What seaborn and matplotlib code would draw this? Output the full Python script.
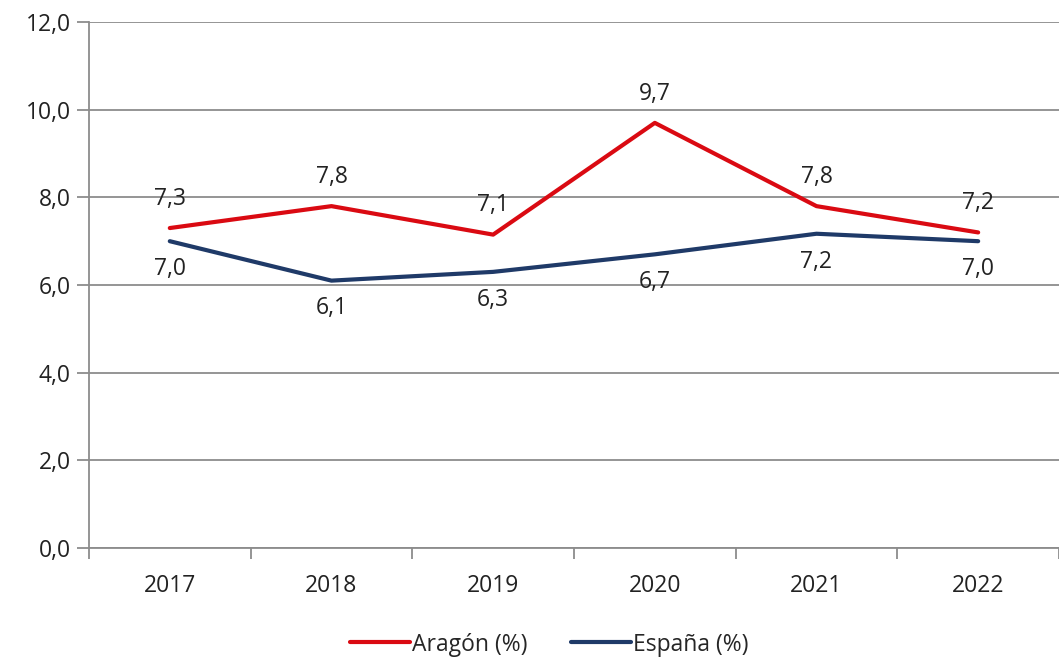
import matplotlib
matplotlib.use("Agg")
import matplotlib.pyplot as plt
import seaborn as sns
import pandas as pd
from matplotlib.ticker import FixedLocator, FuncFormatter

# data
years = ["2017", "2018", "2019", "2020", "2021", "2022"]
aragon = [7.3, 7.8, 7.15, 9.7, 7.8, 7.2]
espana = [7.0, 6.1, 6.3, 6.7, 7.17, 7.0]
aragon_lbl = ["7,3", "7,8", "7,1", "9,7", "7,8", "7,2"]
espana_lbl = ["7,0", "6,1", "6,3", "6,7", "7,2", "7,0"]
series_names = ["Aragón (%)", "España (%)"]

red = "#DA0A12"
navy = "#1F3A68"
grid_col = "#8C8C8C"
txt_col = "#222222"
fs = 16.5

df = pd.DataFrame({
    "year": years * 2,
    "value": aragon + espana,
    "serie": [series_names[0]] * len(years) + [series_names[1]] * len(years),
})

sns.set_style("white")
plt.rcParams["font.family"] = ["Open Sans", "DejaVu Sans"]

fig = plt.figure(figsize=(10.59, 6.59), dpi=100)
ax = fig.add_axes([0.084, 0.1685, 0.916, 0.798])

sns.lineplot(data=df, x="year", y="value", hue="serie",
             palette=[red, navy], linewidth=3, ax=ax, sort=False)

ax.set_xlim(-0.5, 5.5)
ax.set_ylim(0, 12)
ax.set_yticks([0, 2, 4, 6, 8, 10, 12])
ax.yaxis.set_major_formatter(FuncFormatter(lambda v, p: f"{v:.1f}".replace(".", ",")))
ax.yaxis.grid(True, color=grid_col, linewidth=1.3)
ax.set_axisbelow(True)

# category ticks between the years
ax.xaxis.set_minor_locator(FixedLocator([i - 0.5 for i in range(len(years) + 1)]))
ax.tick_params(axis="x", which="major", bottom=True, length=0, pad=19, labelsize=fs, colors=txt_col)
ax.tick_params(axis="x", which="minor", bottom=True, length=8, width=1.3, color=grid_col, direction="out")
ax.tick_params(axis="y", left=True, length=9, width=1.3, color=grid_col, labelsize=fs, labelcolor=txt_col, pad=4)

for s in ["top", "right"]:
    ax.spines[s].set_visible(False)
ax.spines["left"].set_color(grid_col)
ax.spines["left"].set_linewidth(1.3)
ax.spines["bottom"].set_color(grid_col)
ax.spines["bottom"].set_linewidth(1.3)

ax.set_xlabel("")
ax.set_ylabel("")

for i in range(len(years)):
    ax.annotate(aragon_lbl[i], (i, aragon[i]), xytext=(0, 21), textcoords="offset points",
                ha="center", va="center", fontsize=fs, color=txt_col)
    ax.annotate(espana_lbl[i], (i, espana[i]), xytext=(0, -20), textcoords="offset points",
                ha="center", va="center", fontsize=fs, color=txt_col)

ax.legend(loc="center", bbox_to_anchor=(0.519, 0.022), bbox_transform=fig.transFigure,
          ncol=2, frameon=False, fontsize=fs, handlelength=2.6, handletextpad=0.1,
          columnspacing=1.9)

fig.savefig("out.png", dpi=100)
